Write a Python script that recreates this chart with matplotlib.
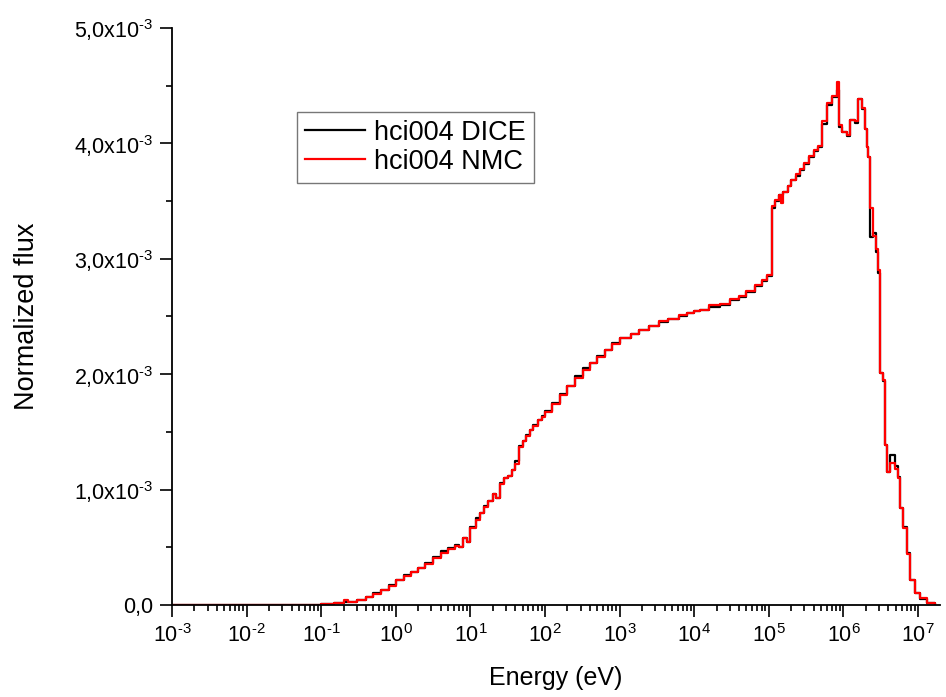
import math
import matplotlib
matplotlib.use('Agg')
import matplotlib.pyplot as plt
from matplotlib.ticker import FixedLocator, LogLocator, NullFormatter, FuncFormatter

plt.rcParams['font.family'] = ['Liberation Sans', 'DejaVu Sans']
plt.rcParams['mathtext.fontset'] = 'custom'
plt.rcParams['mathtext.rm'] = 'Liberation Sans'
plt.rcParams['mathtext.default'] = 'regular'

# energy group bounds (eV) and normalized flux (x1e-3)
energy = [1e-3, 1e-2, 5e-2, 0.1, 0.15, 0.20, 0.23, 0.30, 0.40, 0.50, 0.63, 0.80,
          1.0, 1.3, 1.6, 2.0, 2.5, 3.2, 4.0, 5.0, 6.3, 7.0, 8.0, 9.0,
          10, 12, 13.5, 15, 17, 20, 22, 25, 28, 32, 36, 40, 45, 50, 56, 63, 70, 80, 90,
          100, 125, 160, 200, 250, 320, 400, 500, 630, 800,
          1000, 1400, 1800, 2500, 3400, 4500, 6300, 8000,
          1e4, 1.2e4, 1.6e4, 2.2e4, 3e4, 4e4, 5e4, 6.5e4, 8e4, 9.5e4,
          1.09e5, 1.2e5, 1.35e5, 1.45e5, 1.55e5, 1.8e5, 2e5, 2.3e5, 2.6e5, 3e5, 3.5e5,
          4e5, 4.6e5, 5.2e5, 6e5, 7e5, 8.2e5, 8.7e5, 9.5e5,
          1.12e6, 1.23e6, 1.43e6, 1.57e6, 1.78e6, 1.95e6, 2.08e6, 2.15e6, 2.28e6,
          2.5e6, 2.74e6, 2.91e6, 3.1e6, 3.39e6, 3.6e6, 3.85e6, 4.2e6, 4.9e6, 5.4e6,
          5.7e6, 6.3e6, 7.1e6, 7.8e6, 9.1e6, 1.07e7, 1.32e7, 1.7e7]

flux_dice = [0.000, 0.000, 0.002, 0.010, 0.020, 0.030, 0.025, 0.040, 0.070, 0.100, 0.130, 0.170,
             0.220, 0.260, 0.290, 0.320, 0.360, 0.420, 0.470, 0.490, 0.520, 0.500, 0.580, 0.550,
             0.680, 0.750, 0.800, 0.860, 0.900, 0.960, 0.930, 1.060, 1.100, 1.120, 1.170, 1.250,
             1.380, 1.420, 1.470, 1.520, 1.560, 1.600, 1.640,
             1.680, 1.750, 1.830, 1.900, 1.980, 2.050, 2.100, 2.160, 2.210, 2.270,
             2.310, 2.350, 2.380, 2.420, 2.450, 2.480, 2.500, 2.530,
             2.550, 2.560, 2.580, 2.600, 2.640, 2.670, 2.710, 2.760, 2.810, 2.850,
             3.440, 3.500, 3.550, 3.550, 3.580, 3.630, 3.680, 3.720, 3.770, 3.820, 3.880,
             3.930, 3.970, 4.170, 4.330, 4.400, 4.460, 4.140, 4.100,
             4.060, 4.200, 4.180, 4.380, 4.300, 4.120, 3.970, 3.880, 3.190,
             3.220, 3.060, 2.880, 2.010, 1.940, 1.390, 1.150, 1.300, 1.200, 1.110,
             0.840, 0.680, 0.450, 0.220, 0.100, 0.050, 0.020, 0.000]

flux_nmc = [0.000, 0.000, 0.002, 0.010, 0.020, 0.040, 0.025, 0.040, 0.068, 0.098, 0.128, 0.168,
            0.215, 0.255, 0.285, 0.318, 0.355, 0.405, 0.450, 0.485, 0.515, 0.500, 0.580, 0.550,
            0.670, 0.740, 0.800, 0.850, 0.900, 0.960, 0.930, 1.050, 1.100, 1.120, 1.170, 1.220,
            1.370, 1.420, 1.460, 1.520, 1.550, 1.600, 1.630,
            1.670, 1.740, 1.820, 1.900, 1.970, 2.040, 2.100, 2.150, 2.210, 2.260,
            2.310, 2.350, 2.380, 2.420, 2.460, 2.480, 2.510, 2.530,
            2.550, 2.560, 2.600, 2.610, 2.650, 2.680, 2.720, 2.770, 2.820, 2.860,
            3.460, 3.510, 3.550, 3.480, 3.580, 3.630, 3.680, 3.730, 3.780, 3.830, 3.890,
            3.940, 3.980, 4.190, 4.350, 4.410, 4.530, 4.160, 4.100,
            4.070, 4.200, 4.190, 4.380, 4.310, 4.120, 3.970, 3.880, 3.440,
            3.200, 3.080, 2.900, 2.010, 1.950, 1.390, 1.150, 1.230, 1.180, 1.100,
            0.840, 0.670, 0.440, 0.220, 0.100, 0.060, 0.020, 0.000]

y_ticks = [0, 1e-3, 2e-3, 3e-3, 4e-3, 5e-3]
y_minor = [0.5e-3, 1.5e-3, 2.5e-3, 3.5e-3, 4.5e-3]

fig = plt.figure(figsize=(9.46, 6.97), dpi=100)
ax = fig.add_axes([0.1818, 0.132, 0.8119, 0.828])

ax.plot(energy, [v * 1e-3 for v in flux_dice], color='black', lw=1.6,
        drawstyle='steps-post', label='hci004 DICE')
ax.plot(energy, [v * 1e-3 for v in flux_nmc], color='#ff0000', lw=1.6,
        drawstyle='steps-post', label='hci004 NMC')

ax.set_xscale('log')
ax.set_xlim(1e-3, 1.97e7)
ax.set_ylim(0, 5e-3)


def x_fmt(v, pos):
    e = round(math.log10(v))
    if e < 0:
        return r'$10^{\text{-}%d}$' % (-e)
    return r'$10^{%d}$' % e


def y_fmt(v, pos):
    if abs(v) < 1e-12:
        return '0,0'
    return ('%.1f' % (v * 1e3)).replace('.', ',') + r'x10$^{\text{-}3}$'


ax.xaxis.set_major_locator(LogLocator(base=10, numticks=20))
ax.xaxis.set_minor_locator(LogLocator(base=10, subs=range(2, 10), numticks=20))
ax.xaxis.set_minor_formatter(NullFormatter())
ax.xaxis.set_major_formatter(FuncFormatter(x_fmt))

ax.yaxis.set_major_locator(FixedLocator(y_ticks))
ax.yaxis.set_minor_locator(FixedLocator(y_minor))
ax.yaxis.set_major_formatter(FuncFormatter(y_fmt))

for s in ['top', 'right']:
    ax.spines[s].set_visible(False)
for s in ['left', 'bottom']:
    ax.spines[s].set_linewidth(1.3)

ax.tick_params(which='major', direction='out', length=8.5, width=1.2, labelsize=15.5, pad=5)
ax.tick_params(which='minor', direction='out', length=4.5, width=1.2)

ax.set_xlabel('Energy (eV)', fontsize=18, labelpad=14)
ax.set_ylabel('Normalized flux', fontsize=19.5, labelpad=24)

leg = ax.legend(loc='upper left', bbox_to_anchor=(0.163, 0.855), fontsize=19.5,
                frameon=True, fancybox=False, handlelength=2.2, handletextpad=0.35,
                borderpad=0.3, labelspacing=0.12, borderaxespad=0)
leg.get_frame().set_edgecolor('#555555')
leg.get_frame().set_linewidth(1.0)

fig.savefig('out.png', dpi=100)
